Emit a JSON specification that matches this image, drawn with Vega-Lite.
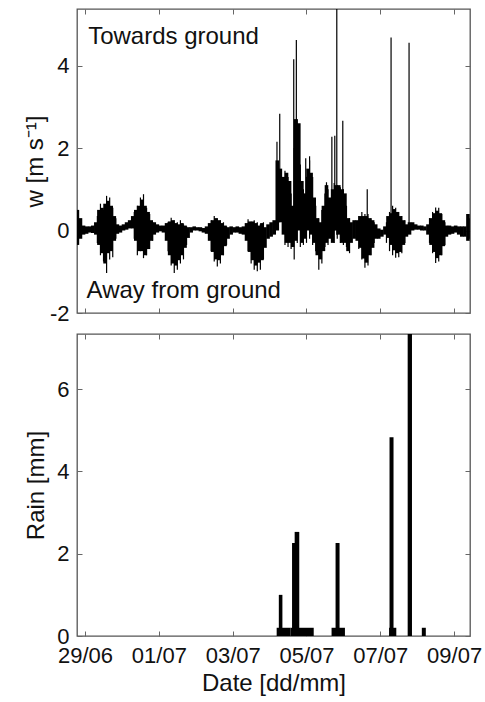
{
  "$schema": "https://vega.github.io/schema/vega-lite/v6.json",
  "padding": {"left": 22, "top": 7, "right": 2, "bottom": 5},
  "background": "white",
  "spacing": 21,
  "bounds": "flush",
  "datasets": {
    "w": [
      {"t":"2012-06-28T19:00","lo":-0.35,"hi":0.5},
      {"t":"2012-06-28T21:00","lo":-0.2,"hi":0.3},
      {"t":"2012-06-28T23:00","lo":-0.1,"hi":0.12},
      {"t":"2012-06-29T01:00","lo":-0.08,"hi":0.1},
      {"t":"2012-06-29T03:00","lo":-0.05,"hi":0.1},
      {"t":"2012-06-29T05:00","lo":-0.06,"hi":0.12},
      {"t":"2012-06-29T07:00","lo":-0.1,"hi":0.2},
      {"t":"2012-06-29T09:00","lo":-0.35,"hi":0.5},
      {"t":"2012-06-29T11:00","lo":-0.55,"hi":0.55},
      {"t":"2012-06-29T13:00","lo":-0.8,"hi":0.65},
      {"t":"2012-06-29T15:00","lo":-0.55,"hi":0.72},
      {"t":"2012-06-29T17:00","lo":-0.5,"hi":0.6},
      {"t":"2012-06-29T19:00","lo":-0.25,"hi":0.35},
      {"t":"2012-06-29T21:00","lo":-0.08,"hi":0.15},
      {"t":"2012-06-29T23:00","lo":-0.05,"hi":0.12},
      {"t":"2012-06-30T01:00","lo":0.0,"hi":0.15},
      {"t":"2012-06-30T03:00","lo":0.02,"hi":0.2},
      {"t":"2012-06-30T05:00","lo":0.05,"hi":0.25},
      {"t":"2012-06-30T07:00","lo":0.05,"hi":0.35},
      {"t":"2012-06-30T09:00","lo":-0.25,"hi":0.5},
      {"t":"2012-06-30T11:00","lo":-0.5,"hi":0.6},
      {"t":"2012-06-30T13:00","lo":-0.5,"hi":0.75},
      {"t":"2012-06-30T15:00","lo":-0.6,"hi":0.6},
      {"t":"2012-06-30T17:00","lo":-0.45,"hi":0.45},
      {"t":"2012-06-30T19:00","lo":-0.25,"hi":0.25},
      {"t":"2012-06-30T21:00","lo":-0.1,"hi":0.2},
      {"t":"2012-06-30T23:00","lo":-0.05,"hi":0.15},
      {"t":"2012-07-01T01:00","lo":-0.02,"hi":0.12},
      {"t":"2012-07-01T03:00","lo":-0.05,"hi":0.12},
      {"t":"2012-07-01T05:00","lo":-0.25,"hi":0.18},
      {"t":"2012-07-01T07:00","lo":-0.6,"hi":0.22},
      {"t":"2012-07-01T09:00","lo":-0.8,"hi":0.25},
      {"t":"2012-07-01T11:00","lo":-0.85,"hi":0.18},
      {"t":"2012-07-01T13:00","lo":-0.72,"hi":0.15},
      {"t":"2012-07-01T15:00","lo":-0.6,"hi":0.18},
      {"t":"2012-07-01T17:00","lo":-0.42,"hi":0.12},
      {"t":"2012-07-01T19:00","lo":-0.18,"hi":0.08},
      {"t":"2012-07-01T21:00","lo":-0.05,"hi":0.08},
      {"t":"2012-07-01T23:00","lo":0.0,"hi":0.1},
      {"t":"2012-07-02T01:00","lo":0.0,"hi":0.08},
      {"t":"2012-07-02T03:00","lo":-0.02,"hi":0.08},
      {"t":"2012-07-02T05:00","lo":-0.05,"hi":0.06},
      {"t":"2012-07-02T07:00","lo":-0.08,"hi":0.1},
      {"t":"2012-07-02T09:00","lo":-0.25,"hi":0.18},
      {"t":"2012-07-02T11:00","lo":-0.52,"hi":0.25},
      {"t":"2012-07-02T13:00","lo":-0.7,"hi":0.3},
      {"t":"2012-07-02T15:00","lo":-0.72,"hi":0.25},
      {"t":"2012-07-02T17:00","lo":-0.6,"hi":0.18},
      {"t":"2012-07-02T19:00","lo":-0.38,"hi":0.12},
      {"t":"2012-07-02T21:00","lo":-0.2,"hi":0.08},
      {"t":"2012-07-02T23:00","lo":-0.1,"hi":0.1},
      {"t":"2012-07-03T01:00","lo":-0.05,"hi":0.08},
      {"t":"2012-07-03T03:00","lo":-0.05,"hi":0.1},
      {"t":"2012-07-03T05:00","lo":-0.08,"hi":0.08},
      {"t":"2012-07-03T07:00","lo":-0.1,"hi":0.1},
      {"t":"2012-07-03T09:00","lo":-0.25,"hi":0.18},
      {"t":"2012-07-03T11:00","lo":-0.52,"hi":0.22},
      {"t":"2012-07-03T13:00","lo":-0.72,"hi":0.22},
      {"t":"2012-07-03T15:00","lo":-0.85,"hi":0.18},
      {"t":"2012-07-03T17:00","lo":-0.78,"hi":0.12},
      {"t":"2012-07-03T19:00","lo":-0.72,"hi":0.18},
      {"t":"2012-07-03T21:00","lo":-0.42,"hi":0.08},
      {"t":"2012-07-03T23:00","lo":-0.2,"hi":0.15},
      {"t":"2012-07-04T01:00","lo":-0.15,"hi":0.2},
      {"t":"2012-07-04T03:00","lo":-0.1,"hi":0.25},
      {"t":"2012-07-04T05:00","lo":0.0,"hi":1.7},
      {"t":"2012-07-04T07:00","lo":0.2,"hi":1.5},
      {"t":"2012-07-04T09:00","lo":-0.1,"hi":1.3},
      {"t":"2012-07-04T11:00","lo":-0.3,"hi":1.4},
      {"t":"2012-07-04T13:00","lo":-0.3,"hi":1.2},
      {"t":"2012-07-04T15:00","lo":-0.4,"hi":0.6},
      {"t":"2012-07-04T17:00","lo":-0.25,"hi":2.7},
      {"t":"2012-07-04T19:00","lo":0.0,"hi":2.6},
      {"t":"2012-07-04T21:00","lo":-0.3,"hi":1.2},
      {"t":"2012-07-04T23:00","lo":-0.2,"hi":0.9},
      {"t":"2012-07-05T01:00","lo":0.0,"hi":1.5},
      {"t":"2012-07-05T03:00","lo":-0.1,"hi":1.4},
      {"t":"2012-07-05T05:00","lo":-0.3,"hi":0.8},
      {"t":"2012-07-05T07:00","lo":-0.6,"hi":0.3},
      {"t":"2012-07-05T09:00","lo":-0.7,"hi":0.2},
      {"t":"2012-07-05T11:00","lo":-0.5,"hi":0.6},
      {"t":"2012-07-05T13:00","lo":-0.3,"hi":1.1},
      {"t":"2012-07-05T15:00","lo":-0.2,"hi":0.8},
      {"t":"2012-07-05T17:00","lo":-0.3,"hi":1.0},
      {"t":"2012-07-05T19:00","lo":0.0,"hi":1.1},
      {"t":"2012-07-05T21:00","lo":-0.1,"hi":1.1},
      {"t":"2012-07-05T23:00","lo":-0.3,"hi":1.0},
      {"t":"2012-07-06T01:00","lo":-0.3,"hi":0.9},
      {"t":"2012-07-06T03:00","lo":-0.5,"hi":0.3},
      {"t":"2012-07-06T05:00","lo":-0.3,"hi":0.2},
      {"t":"2012-07-06T07:00","lo":-0.2,"hi":0.25},
      {"t":"2012-07-06T09:00","lo":-0.25,"hi":0.25},
      {"t":"2012-07-06T11:00","lo":-0.42,"hi":0.35},
      {"t":"2012-07-06T13:00","lo":-0.68,"hi":0.35},
      {"t":"2012-07-06T15:00","lo":-0.78,"hi":0.35},
      {"t":"2012-07-06T17:00","lo":-0.6,"hi":0.3},
      {"t":"2012-07-06T19:00","lo":-0.42,"hi":0.25},
      {"t":"2012-07-06T21:00","lo":-0.2,"hi":0.15},
      {"t":"2012-07-06T23:00","lo":-0.2,"hi":0.05},
      {"t":"2012-07-07T01:00","lo":-0.15,"hi":0.02},
      {"t":"2012-07-07T03:00","lo":-0.1,"hi":0.1},
      {"t":"2012-07-07T05:00","lo":-0.18,"hi":0.35},
      {"t":"2012-07-07T07:00","lo":-0.35,"hi":0.42},
      {"t":"2012-07-07T09:00","lo":-0.48,"hi":0.52},
      {"t":"2012-07-07T11:00","lo":-0.55,"hi":0.45},
      {"t":"2012-07-07T13:00","lo":-0.52,"hi":0.35},
      {"t":"2012-07-07T15:00","lo":-0.35,"hi":0.25},
      {"t":"2012-07-07T17:00","lo":-0.15,"hi":0.15},
      {"t":"2012-07-07T19:00","lo":-0.1,"hi":0.2},
      {"t":"2012-07-07T21:00","lo":0.0,"hi":0.2},
      {"t":"2012-07-07T23:00","lo":0.02,"hi":0.15},
      {"t":"2012-07-08T01:00","lo":0.02,"hi":0.12},
      {"t":"2012-07-08T03:00","lo":0.0,"hi":0.12},
      {"t":"2012-07-08T05:00","lo":0.0,"hi":0.1},
      {"t":"2012-07-08T07:00","lo":-0.1,"hi":0.15},
      {"t":"2012-07-08T09:00","lo":-0.35,"hi":0.3},
      {"t":"2012-07-08T11:00","lo":-0.52,"hi":0.42},
      {"t":"2012-07-08T13:00","lo":-0.67,"hi":0.48},
      {"t":"2012-07-08T15:00","lo":-0.6,"hi":0.42},
      {"t":"2012-07-08T17:00","lo":-0.38,"hi":0.25},
      {"t":"2012-07-08T19:00","lo":-0.15,"hi":0.12},
      {"t":"2012-07-08T21:00","lo":-0.1,"hi":0.12},
      {"t":"2012-07-08T23:00","lo":-0.08,"hi":0.1},
      {"t":"2012-07-09T01:00","lo":-0.05,"hi":0.12},
      {"t":"2012-07-09T03:00","lo":-0.1,"hi":0.1},
      {"t":"2012-07-09T05:00","lo":-0.15,"hi":0.1},
      {"t":"2012-07-09T07:00","lo":-0.15,"hi":0.1},
      {"t":"2012-07-09T09:00","lo":-0.25,"hi":0.4},
      {"t":"2012-07-09T11:00","lo":-0.2,"hi":0.3}
    ],
    "streaks": [
      {"t":"2012-06-29T08:00","lo":-0.3,"hi":0.35},
      {"t":"2012-06-29T10:00","lo":-0.6,"hi":0.65},
      {"t":"2012-06-29T12:00","lo":-0.75,"hi":0.5},
      {"t":"2012-06-29T14:00","lo":-1.03,"hi":0.84},
      {"t":"2012-06-29T16:00","lo":-0.7,"hi":0.8},
      {"t":"2012-06-29T18:00","lo":-0.65,"hi":0.55},
      {"t":"2012-06-29T20:00","lo":-0.2,"hi":0.3},
      {"t":"2012-06-30T08:00","lo":-0.2,"hi":0.45},
      {"t":"2012-06-30T10:00","lo":-0.6,"hi":0.6},
      {"t":"2012-06-30T12:00","lo":-0.5,"hi":0.8},
      {"t":"2012-06-30T14:00","lo":-0.67,"hi":0.88},
      {"t":"2012-06-30T16:00","lo":-0.6,"hi":0.55},
      {"t":"2012-06-30T18:00","lo":-0.45,"hi":0.4},
      {"t":"2012-06-30T20:00","lo":-0.25,"hi":0.2},
      {"t":"2012-07-01T06:00","lo":-0.5,"hi":0.2},
      {"t":"2012-07-01T08:00","lo":-0.85,"hi":0.31},
      {"t":"2012-07-01T10:00","lo":-1.03,"hi":0.25},
      {"t":"2012-07-01T12:00","lo":-0.95,"hi":0.2},
      {"t":"2012-07-01T14:00","lo":-0.8,"hi":0.25},
      {"t":"2012-07-01T16:00","lo":-0.7,"hi":0.15},
      {"t":"2012-07-01T18:00","lo":-0.35,"hi":0.1},
      {"t":"2012-07-02T10:00","lo":-0.5,"hi":0.25},
      {"t":"2012-07-02T12:00","lo":-0.75,"hi":0.35},
      {"t":"2012-07-02T14:00","lo":-0.87,"hi":0.3},
      {"t":"2012-07-02T16:00","lo":-0.8,"hi":0.25},
      {"t":"2012-07-02T18:00","lo":-0.6,"hi":0.2},
      {"t":"2012-07-02T20:00","lo":-0.35,"hi":0.1},
      {"t":"2012-07-03T10:00","lo":-0.5,"hi":0.27},
      {"t":"2012-07-03T12:00","lo":-0.8,"hi":0.2},
      {"t":"2012-07-03T14:00","lo":-0.95,"hi":0.25},
      {"t":"2012-07-03T16:00","lo":-0.99,"hi":0.2},
      {"t":"2012-07-03T18:00","lo":-0.95,"hi":0.15},
      {"t":"2012-07-03T20:00","lo":-0.7,"hi":0.2},
      {"t":"2012-07-04T10:00","lo":-0.35,"hi":1.45},
      {"t":"2012-07-04T12:00","lo":-0.4,"hi":1.3},
      {"t":"2012-07-04T14:00","lo":-0.45,"hi":0.9},
      {"t":"2012-07-04T16:00","lo":-0.7,"hi":2.0},
      {"t":"2012-07-04T18:00","lo":-0.3,"hi":2.7},
      {"t":"2012-07-04T20:00","lo":-0.4,"hi":1.6},
      {"t":"2012-07-04T22:00","lo":-0.35,"hi":1.0},
      {"t":"2012-07-05T00:00","lo":-0.3,"hi":1.3},
      {"t":"2012-07-05T02:00","lo":-0.2,"hi":1.7},
      {"t":"2012-07-05T04:00","lo":-0.35,"hi":1.3},
      {"t":"2012-07-05T06:00","lo":-0.5,"hi":0.6},
      {"t":"2012-07-05T08:00","lo":-0.95,"hi":0.3},
      {"t":"2012-07-05T10:00","lo":-0.8,"hi":0.5},
      {"t":"2012-07-05T12:00","lo":-0.4,"hi":0.9},
      {"t":"2012-07-05T14:00","lo":-0.35,"hi":1.0},
      {"t":"2012-07-05T18:00","lo":-0.3,"hi":1.15},
      {"t":"2012-07-05T20:00","lo":-0.2,"hi":1.1},
      {"t":"2012-07-05T22:00","lo":-0.3,"hi":1.05},
      {"t":"2012-07-06T00:00","lo":-0.35,"hi":1.0},
      {"t":"2012-07-06T02:00","lo":-0.4,"hi":0.6},
      {"t":"2012-07-06T04:00","lo":-0.55,"hi":0.3},
      {"t":"2012-07-06T10:00","lo":-0.45,"hi":0.35},
      {"t":"2012-07-06T12:00","lo":-0.7,"hi":0.45},
      {"t":"2012-07-06T14:00","lo":-0.9,"hi":0.4},
      {"t":"2012-07-06T16:00","lo":-0.85,"hi":0.4},
      {"t":"2012-07-06T18:00","lo":-0.6,"hi":0.3},
      {"t":"2012-07-06T20:00","lo":-0.3,"hi":0.2},
      {"t":"2012-07-07T04:00","lo":-0.3,"hi":0.2},
      {"t":"2012-07-07T06:00","lo":-0.5,"hi":0.45},
      {"t":"2012-07-07T08:00","lo":-0.6,"hi":0.6},
      {"t":"2012-07-07T10:00","lo":-0.66,"hi":0.55},
      {"t":"2012-07-07T12:00","lo":-0.65,"hi":0.45},
      {"t":"2012-07-07T14:00","lo":-0.55,"hi":0.35},
      {"t":"2012-07-07T16:00","lo":-0.3,"hi":0.25},
      {"t":"2012-07-08T08:00","lo":-0.3,"hi":0.3},
      {"t":"2012-07-08T10:00","lo":-0.55,"hi":0.45},
      {"t":"2012-07-08T12:00","lo":-0.79,"hi":0.56},
      {"t":"2012-07-08T14:00","lo":-0.75,"hi":0.55},
      {"t":"2012-07-08T16:00","lo":-0.6,"hi":0.4},
      {"t":"2012-07-08T18:00","lo":-0.35,"hi":0.2},
      {"t":"2012-07-04T04:48","lo":0.2,"hi":2.15},
      {"t":"2012-07-04T06:36","lo":0.2,"hi":2.83},
      {"t":"2012-07-04T15:42","lo":0.3,"hi":4.15},
      {"t":"2012-07-04T17:24","lo":0.5,"hi":4.62},
      {"t":"2012-07-04T23:30","lo":0.3,"hi":1.75},
      {"t":"2012-07-05T02:00","lo":0.3,"hi":1.8},
      {"t":"2012-07-05T13:00","lo":0.2,"hi":1.17},
      {"t":"2012-07-05T16:30","lo":0.0,"hi":2.27},
      {"t":"2012-07-05T18:24","lo":0.0,"hi":2.3},
      {"t":"2012-07-05T19:42","lo":-0.1,"hi":5.6},
      {"t":"2012-07-05T23:36","lo":0.0,"hi":2.66},
      {"t":"2012-07-06T15:30","lo":0.0,"hi":1.0},
      {"t":"2012-07-07T07:00","lo":0.2,"hi":4.68},
      {"t":"2012-07-07T18:42","lo":0.1,"hi":4.55}
    ],
    "notes": [
      {"t":"2012-06-29T02:00","v":4.52,"label":"Towards ground"},
      {"t":"2012-06-29T01:00","v":-1.63,"label":"Away from ground"}
    ],
    "rain": [
      {"t0":"2012-07-04T04:36","t1":"2012-07-04T13:30","v":0.2},
      {"t0":"2012-07-04T06:00","t1":"2012-07-04T08:20","v":1.0},
      {"t0":"2012-07-04T13:30","t1":"2012-07-05T04:42","v":0.2},
      {"t0":"2012-07-04T14:36","t1":"2012-07-04T17:12","v":2.26},
      {"t0":"2012-07-04T16:18","t1":"2012-07-04T19:18","v":2.53},
      {"t0":"2012-07-05T16:18","t1":"2012-07-06T01:00","v":0.2},
      {"t0":"2012-07-05T18:54","t1":"2012-07-05T21:30","v":2.26},
      {"t0":"2012-07-07T05:42","t1":"2012-07-07T10:24","v":0.2},
      {"t0":"2012-07-07T06:00","t1":"2012-07-07T08:36","v":4.83},
      {"t0":"2012-07-07T17:48","t1":"2012-07-07T20:36","v":7.5},
      {"t0":"2012-07-08T03:00","t1":"2012-07-08T05:36","v":0.2}
    ]
  },
  "vconcat": [
    {
      "width": 393,
      "height": 304,
      "layer": [
        {
          "data": {"name": "w"},
          "mark": {"type": "rule", "color": "black", "strokeWidth": 3.6, "clip": true},
          "encoding": {
            "x": {"field": "t", "type": "temporal",
              "scale": {"domain": [{"year":2012,"month":6,"date":28,"hours":18,"minutes":45},{"year":2012,"month":7,"date":9,"hours":10,"minutes":20}], "nice": false},
              "axis": {"orient": "bottom", "labels": false, "title": null,
                "values": [{"year":2012,"month":6,"date":29},{"year":2012,"month":7,"date":1},{"year":2012,"month":7,"date":3},{"year":2012,"month":7,"date":5},{"year":2012,"month":7,"date":7},{"year":2012,"month":7,"date":9}]}},
            "y": {"field": "lo", "type": "quantitative",
              "scale": {"domain": [-2, 5.37], "nice": false, "zero": false},
              "axis": {"orient": "left", "values": [-2, 0, 2, 4], "title": "w [m s⁻¹]", "labelPadding": 13, "titlePadding": 2,
                "labelExpr": "replace(datum.label, '−', '-')"}},
            "y2": {"field": "hi"}
          }
        },
        {
          "data": {"name": "streaks"},
          "mark": {"type": "rule", "color": "black", "strokeWidth": 1.2, "clip": true},
          "encoding": {
            "x": {"field": "t", "type": "temporal", "axis": null},
            "y": {"field": "lo", "type": "quantitative", "axis": null},
            "y2": {"field": "hi"}
          }
        },
        {
          "data": {"name": "notes"},
          "mark": {"type": "text", "align": "left", "baseline": "alphabetic", "fontSize": 24, "color": "#111"},
          "encoding": {
            "x": {"field": "t", "type": "temporal", "axis": null},
            "y": {"field": "v", "type": "quantitative", "axis": null},
            "text": {"field": "label"}
          }
        },
        {
          "data": {"name": "w"},
          "mark": {"type": "rule", "opacity": 0},
          "encoding": {
            "x": {"field": "t", "type": "temporal",
              "axis": {"orient": "top", "labels": false, "title": null,
                "values": [{"year":2012,"month":6,"date":29},{"year":2012,"month":7,"date":1},{"year":2012,"month":7,"date":3},{"year":2012,"month":7,"date":5},{"year":2012,"month":7,"date":7},{"year":2012,"month":7,"date":9}]}},
            "y": {"field": "lo", "type": "quantitative",
              "axis": {"orient": "right", "values": [-2, 0, 2, 4], "labels": false, "title": null}}
          }
        }
      ],
      "resolve": {"axis": {"x": "independent", "y": "independent"}}
    },
    {
      "width": 393,
      "height": 302,
      "layer": [
        {
          "data": {"name": "rain"},
          "mark": {"type": "bar", "color": "black", "clip": true},
          "encoding": {
            "x": {"field": "t0", "type": "temporal",
              "scale": {"domain": [{"year":2012,"month":6,"date":28,"hours":18,"minutes":45},{"year":2012,"month":7,"date":9,"hours":10,"minutes":20}], "nice": false},
              "axis": {"orient": "bottom", "format": "%d/%m", "title": "Date [dd/mm]", "labelPadding": 14, "titlePadding": 5,
                "values": [{"year":2012,"month":6,"date":29},{"year":2012,"month":7,"date":1},{"year":2012,"month":7,"date":3},{"year":2012,"month":7,"date":5},{"year":2012,"month":7,"date":7},{"year":2012,"month":7,"date":9}]}},
            "x2": {"field": "t1"},
            "y": {"field": "v", "type": "quantitative",
              "scale": {"domain": [0, 7.34], "nice": false},
              "axis": {"orient": "left", "values": [0, 2, 4, 6], "title": "Rain [mm]", "labelPadding": 13, "titlePadding": 8}},
            "y2": {"datum": 0}
          }
        },
        {
          "data": {"name": "rain"},
          "mark": {"type": "rule", "opacity": 0},
          "encoding": {
            "x": {"field": "t0", "type": "temporal",
              "axis": {"orient": "top", "labels": false, "title": null,
                "values": [{"year":2012,"month":6,"date":29},{"year":2012,"month":7,"date":1},{"year":2012,"month":7,"date":3},{"year":2012,"month":7,"date":5},{"year":2012,"month":7,"date":7},{"year":2012,"month":7,"date":9}]}},
            "y": {"field": "v", "type": "quantitative",
              "axis": {"orient": "right", "values": [0, 2, 4, 6], "labels": false, "title": null}}
          }
        }
      ],
      "resolve": {"axis": {"x": "independent", "y": "independent"}}
    }
  ],
  "config": {
    "font": "Liberation Sans",
    "view": {"stroke": "#555", "strokeWidth": 1.3},
    "axis": {
      "labelFontSize": 22, "titleFontSize": 24, "titleFontWeight": "normal",
      "labelColor": "#111", "titleColor": "#111", "grid": false, "domain": false,
      "tickColor": "#666", "tickSize": -5, "labelFlush": false, "labelOverlap": false
    }
  }
}
